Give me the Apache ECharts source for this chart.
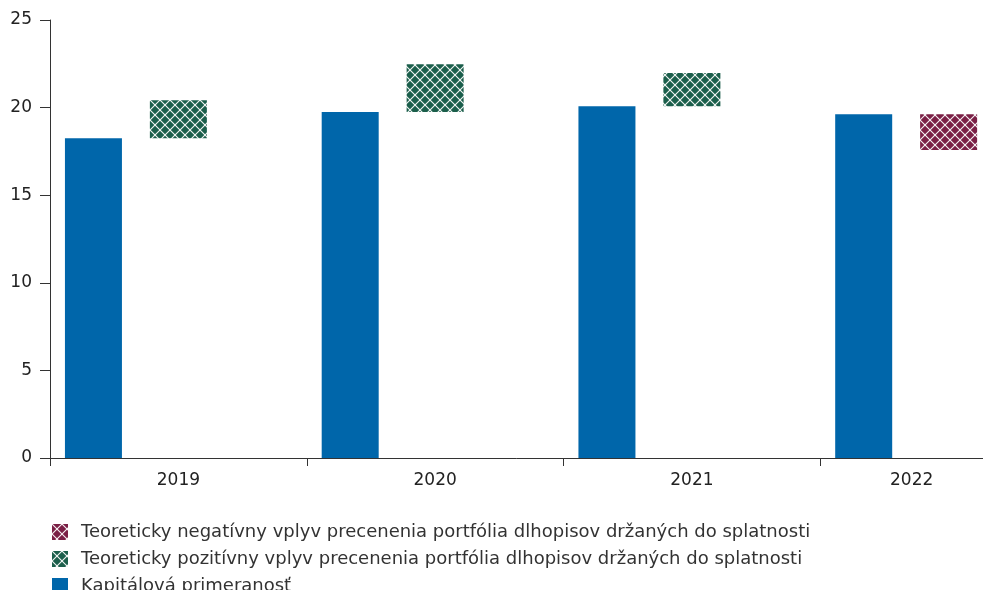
<!DOCTYPE html>
<html><head><meta charset="utf-8">
<script src="https://cdn.jsdelivr.net/npm/echarts@6/dist/echarts.min.js"></script>
<style>html,body{margin:0;padding:0;background:#fff}#c{width:983px;height:590px}</style>
</head><body><div id="c"></div>
<script>
const categories = ['2019', '2020', '2021', '2022'];
const capitalRatio = [18.25, 19.75, 20.08, 19.62];
const positiveTop = [20.42, 22.48, 21.97, null];
const negativeBottom = [null, null, null, 17.58];
const names = [
  'Teoreticky negatívny vplyv precenenia portfólia dlhopisov držaných do splatnosti',
  'Teoreticky pozitívny vplyv precenenia portfólia dlhopisov držaných do splatnosti',
  'Kapitálová primeranosť'
];

function hatch(color) {
  const s = 10;
  const cv = document.createElement('canvas');
  cv.width = s; cv.height = s;
  const ctx = cv.getContext('2d');
  ctx.fillStyle = color; ctx.fillRect(0, 0, s, s);
  ctx.strokeStyle = 'rgba(255,255,255,0.95)'; ctx.lineWidth = 1.1;
  ctx.beginPath(); ctx.moveTo(0, 0); ctx.lineTo(s, s); ctx.stroke();
  ctx.beginPath(); ctx.moveTo(s, 0); ctx.lineTo(0, s); ctx.stroke();
  return { image: cv, repeat: 'repeat' };
}

const base = categories.map((c, i) => positiveTop[i] != null ? capitalRatio[i] : negativeBottom[i]);
const posDelta = categories.map((c, i) => positiveTop[i] != null ? +(positiveTop[i] - capitalRatio[i]).toFixed(2) : '-');
const negDelta = categories.map((c, i) => negativeBottom[i] != null ? +(capitalRatio[i] - negativeBottom[i]).toFixed(2) : '-');

const chart = echarts.init(document.getElementById('c'));
const font = 'DejaVu Sans, sans-serif';
const legendText = { fontSize: 18, color: '#333', fontFamily: font, padding: [0, 0, 0, 8] };
function lg(name, top) {
  return { orient: 'vertical', left: 47, top: top, itemWidth: 16, itemHeight: 16, icon: 'rect',
           textStyle: legendText, data: [name], selectedMode: false };
}
chart.setOption({
  animation: false,
  textStyle: { fontFamily: font },
  grid: { left: 50, top: 20, width: 1027, height: 438, containLabel: false, outerBoundsMode: 'none' },
  legend: [lg(names[0], 518), lg(names[1], 545), lg(names[2], 572)],
  xAxis: {
    type: 'category', data: categories,
    axisLine: { lineStyle: { color: '#333', width: 1 } },
    axisTick: { show: true, length: 8, lineStyle: { color: '#333' } },
    axisLabel: {
      fontSize: 17, color: '#222', margin: 14, fontFamily: font,
      formatter: (v) => v === '2022' ? '{s|' + v + '}' : v,
      rich: { s: { fontSize: 17, color: '#222', fontFamily: font, padding: [0, 74, 0, 0] } }
    }
  },
  yAxis: {
    type: 'value', min: 0, max: 25, interval: 5,
    splitLine: { show: false },
    axisLine: { show: true, lineStyle: { color: '#333' } },
    axisTick: { show: true, length: 10, lineStyle: { color: '#333' } },
    axisLabel: { fontSize: 17, color: '#222', margin: 18, fontFamily: font }
  },
  series: [
    { name: names[2], type: 'bar', data: capitalRatio, barWidth: 57, barGap: '49%',
      itemStyle: { color: '#0066AA' } },
    { name: 'base', type: 'bar', stack: 'f', data: base, barWidth: 57,
      itemStyle: { color: 'transparent' }, silent: true },
    { name: names[1], type: 'bar', stack: 'f', data: posDelta, barWidth: 57,
      itemStyle: { color: hatch('#1B5E4B') } },
    { name: names[0], type: 'bar', stack: 'f', data: negDelta, barWidth: 57,
      itemStyle: { color: hatch('#7A1F45') } },
    { name: 'empty', type: 'bar', stack: 'z', data: categories.map(() => '-'), barWidth: 57 }
  ]
});
</script></body></html>
